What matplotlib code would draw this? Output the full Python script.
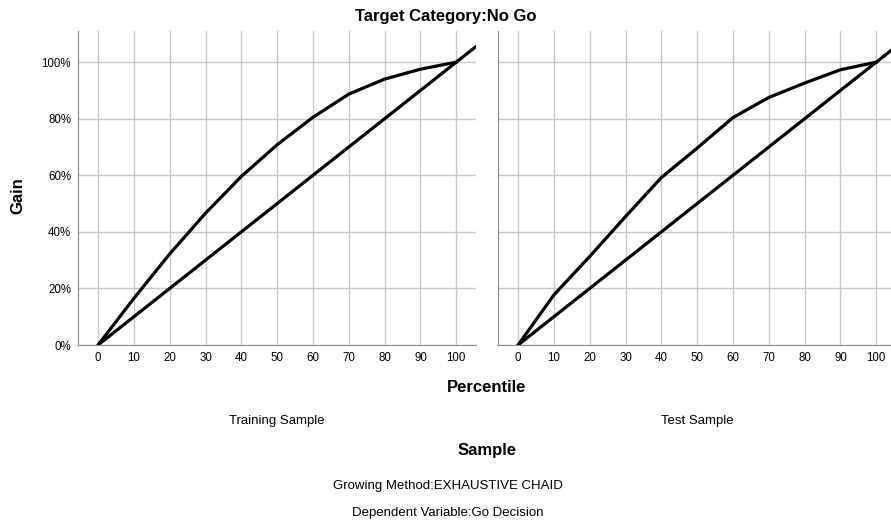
import matplotlib.pyplot as plt
from matplotlib.ticker import FuncFormatter

plt.rcParams['font.family'] = ['Liberation Sans', 'DejaVu Sans']

percentile = [0, 10, 20, 30, 40, 50, 60, 70, 80, 90, 100]
train_gain = [0, 16.5, 32.2, 46.6, 59.6, 70.8, 80.5, 88.7, 94.0, 97.5, 100]
test_gain = [0, 17.7, 31.3, 45.4, 59.2, 69.6, 80.4, 87.5, 92.6, 97.3, 100]
baseline_x = [0, 110]
baseline_y = [0, 110]
panels = ['Training Sample', 'Test Sample']
x_ticks = [0, 10, 20, 30, 40, 50, 60, 70, 80, 90, 100]
y_ticks = [0, 20, 40, 60, 80, 100]

fig = plt.figure(figsize=(8.91, 5.24), dpi=100)
W, H = 891, 524

def box(x0, y0, x1, y1):
    return [x0 / W, 1 - y1 / H, (x1 - x0) / W, (y1 - y0) / H]

ax1 = fig.add_axes(box(78, 31, 476, 345))
ax2 = fig.add_axes(box(498, 31, 896, 345))

for ax, gain in [(ax1, train_gain), (ax2, test_gain)]:
    ax.plot(baseline_x, baseline_y, color='black', lw=2.3, solid_capstyle='butt')
    ax.plot(percentile, gain, color='black', lw=2.3)
    ax.set_xlim(-5.6, 105.5)
    ax.set_ylim(0, 111)
    ax.set_xticks(x_ticks)
    ax.set_yticks(y_ticks)
    ax.grid(True, color='#c8c8c8', lw=1)
    ax.set_axisbelow(True)
    for s in ['top', 'right']:
        ax.spines[s].set_visible(False)
    ax.spines['left'].set_color('#888888')
    ax.spines['bottom'].set_color('#888888')
    ax.tick_params(length=0, labelsize=8.3, pad=5, colors='black')
    ax.yaxis.set_major_formatter(FuncFormatter(lambda v, p: f'{v:.0f}%'))

ax2.tick_params(axis='y', labelleft=False)

fig.text(446 / W, 1 - 16 / H, 'Target Category:No Go', ha='center', va='center',
         fontsize=12, fontweight='bold')
fig.text(18 / W, 1 - 196 / H, 'Gain', ha='center', va='center', rotation=90,
         fontsize=12, fontweight='bold')
fig.text(487 / W, 1 - 388 / H, 'Percentile', ha='center', va='center',
         fontsize=12, fontweight='bold')
fig.text(277 / W, 1 - 421 / H, panels[0], ha='center', va='center', fontsize=9.5)
fig.text(697 / W, 1 - 421 / H, panels[1], ha='center', va='center', fontsize=9.5)
fig.text(487 / W, 1 - 451 / H, 'Sample', ha='center', va='center',
         fontsize=12, fontweight='bold')
fig.text(448 / W, 1 - 486 / H, 'Growing Method:EXHAUSTIVE CHAID', ha='center',
         va='center', fontsize=9.5)
fig.text(448 / W, 1 - 513 / H, 'Dependent Variable:Go Decision', ha='center',
         va='center', fontsize=9.5)

fig.savefig('out.png', dpi=100)
